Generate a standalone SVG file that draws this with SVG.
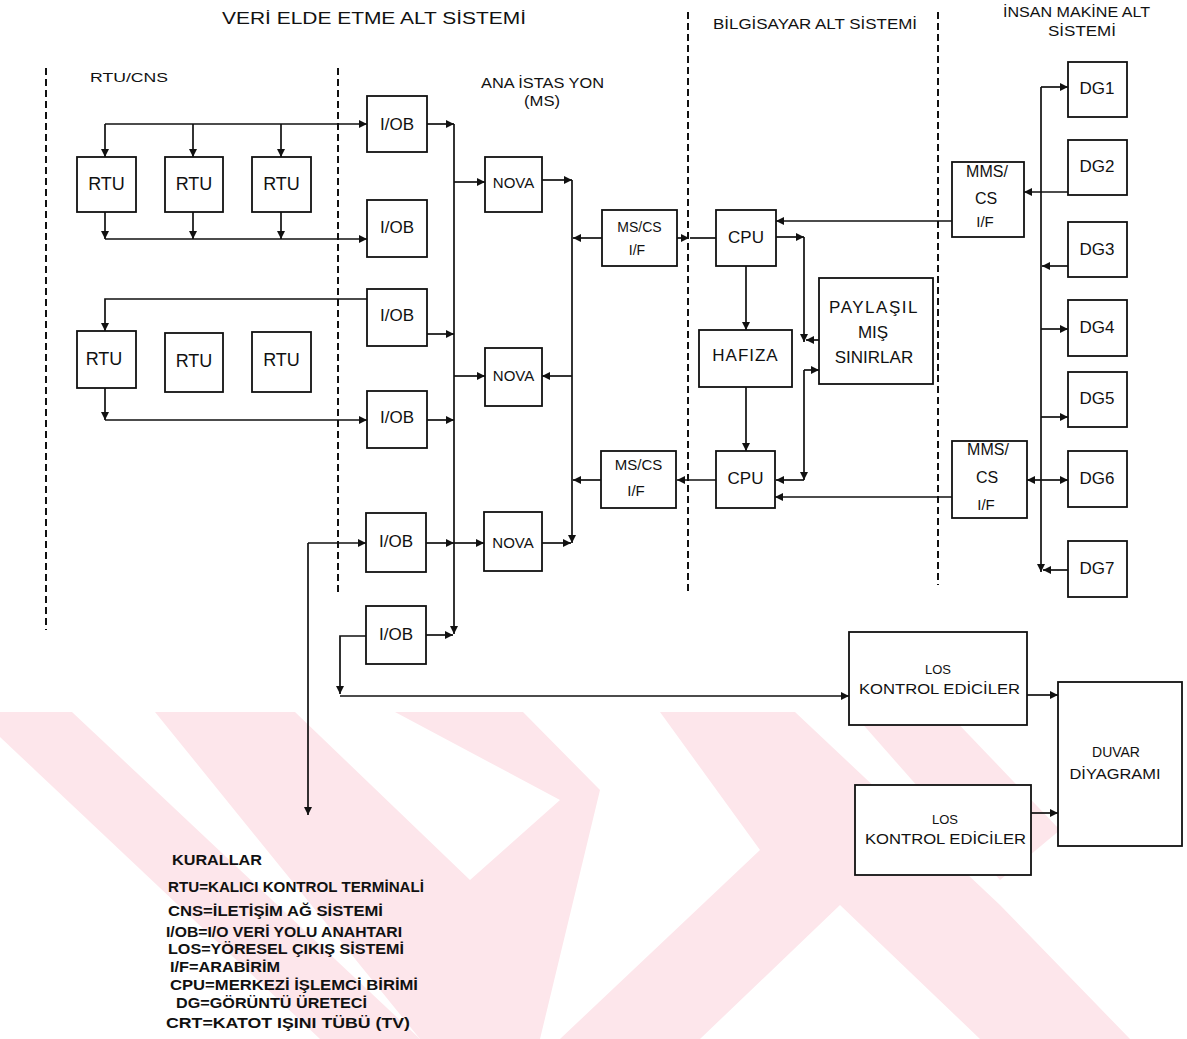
<svg xmlns="http://www.w3.org/2000/svg" width="1187" height="1039" viewBox="0 0 1187 1039">
<defs>
<marker id="ah" markerUnits="userSpaceOnUse" markerWidth="9" markerHeight="8" refX="8" refY="4" orient="auto">
<path d="M0,0 L8,4 L0,8 z" fill="#111"/>
</marker>
<style>
.t{font-family:"Liberation Sans",Arial,sans-serif;fill:#111;}
.bx{fill:#fff;stroke:#111;stroke-width:1.8;}
.c{fill:none;stroke:#111;stroke-width:1.7;}
.a{fill:none;stroke:#111;stroke-width:1.7;marker-end:url(#ah);}
.d{fill:none;stroke:#111;stroke-width:2;stroke-dasharray:7 4;}
.wm{fill:#fde6eb;}
</style>
</defs>
<rect width="1187" height="1039" fill="#fff"/>

<g id="watermark">
<polygon class="wm" points="0,712 72,712 420,1039 320,1039 0,737"/>
<polygon class="wm" points="155,712 295,712 470,880 560,800 395,712 523,712 600,790 540,1039 420,1039"/>
<polygon class="wm" points="660,712 795,712 1000,905 1130,1039 980,1039 840,905 700,1039 560,1039 760,850"/>
<polygon class="wm" points="852,712 947,712 1060,830 1000,880"/>
</g>

<g id="dividers">
<line class="d" x1="46" y1="68" x2="46" y2="630"/>
<line class="d" x1="338" y1="68" x2="338" y2="595"/>
<line class="d" x1="688" y1="12" x2="688" y2="595"/>
<line class="d" x1="938" y1="12" x2="938" y2="585"/>
</g>

<g id="headers">
<text class="t" x="222" y="24" font-size="16" textLength="304" lengthAdjust="spacingAndGlyphs">VERİ ELDE ETME ALT SİSTEMİ</text>
<text class="t" x="90" y="82" font-size="13" textLength="78" lengthAdjust="spacingAndGlyphs">RTU/CNS</text>
<text class="t" x="481" y="88" font-size="14" textLength="123" lengthAdjust="spacingAndGlyphs">ANA İSTAS YON</text>
<text class="t" x="524" y="106" font-size="14" textLength="36" lengthAdjust="spacingAndGlyphs">(MS)</text>
<text class="t" x="713" y="29" font-size="14" textLength="204" lengthAdjust="spacingAndGlyphs">BİLGİSAYAR ALT SİSTEMİ</text>
<text class="t" x="1003" y="17" font-size="14" textLength="147" lengthAdjust="spacingAndGlyphs">İNSAN MAKİNE ALT</text>
<text class="t" x="1048" y="36" font-size="14" textLength="68" lengthAdjust="spacingAndGlyphs">SİSTEMİ</text>
</g>

<g id="connectors">
<line class="a" x1="105" y1="124" x2="367" y2="124"/>
<line class="a" x1="105" y1="124" x2="105" y2="157"/>
<line class="a" x1="193" y1="124" x2="193" y2="157"/>
<line class="a" x1="281" y1="124" x2="281" y2="157"/>
<line class="a" x1="105" y1="212" x2="105" y2="239"/>
<line class="a" x1="193" y1="212" x2="193" y2="239"/>
<line class="a" x1="281" y1="212" x2="281" y2="239"/>
<line class="a" x1="105" y1="239" x2="367" y2="239"/>
<path class="a" d="M367,299 L105,299 L105,331"/>
<line class="a" x1="105" y1="388" x2="105" y2="420"/>
<line class="a" x1="105" y1="420" x2="367" y2="420"/>
<line class="a" x1="427" y1="124" x2="454" y2="124"/>
<line class="a" x1="427" y1="334" x2="454" y2="334"/>
<line class="a" x1="427" y1="420" x2="454" y2="420"/>
<line class="a" x1="426" y1="543" x2="454" y2="543"/>
<line class="a" x1="426" y1="635" x2="453" y2="635"/>
<line class="a" x1="454" y1="124" x2="454" y2="634"/>
<line class="a" x1="454" y1="182" x2="485" y2="182"/>
<line class="a" x1="454" y1="376" x2="485" y2="376"/>
<line class="a" x1="454" y1="543" x2="484" y2="543"/>
<line class="a" x1="542" y1="180" x2="572" y2="180"/>
<line class="a" x1="572" y1="180" x2="572" y2="543"/>
<line class="a" x1="572" y1="376" x2="542" y2="376"/>
<line class="a" x1="542" y1="543" x2="571" y2="543"/>
<line class="a" x1="602" y1="238" x2="573" y2="238"/>
<line class="a" x1="601" y1="480" x2="573" y2="480"/>
<line class="a" x1="677" y1="238" x2="689" y2="238"/>
<line class="c" x1="690" y1="238" x2="716" y2="238"/>
<line class="a" x1="716" y1="480" x2="677" y2="480"/>
<line class="a" x1="952" y1="221" x2="776" y2="221"/>
<line class="a" x1="776" y1="237" x2="804" y2="237"/>
<line class="a" x1="804" y1="237" x2="804" y2="342"/>
<line class="a" x1="819" y1="340" x2="806" y2="340"/>
<line class="a" x1="804" y1="370" x2="819" y2="370"/>
<line class="a" x1="804" y1="370" x2="804" y2="480"/>
<line class="a" x1="804" y1="480" x2="776" y2="480"/>
<line class="a" x1="746" y1="266" x2="746" y2="330"/>
<line class="a" x1="746" y1="387" x2="746" y2="451"/>
<line class="a" x1="952" y1="497" x2="775" y2="497"/>
<line class="a" x1="1041" y1="87" x2="1041" y2="572"/>
<line class="a" x1="1041" y1="87" x2="1068" y2="87"/>
<line class="a" x1="1068" y1="192" x2="1024" y2="192"/>
<line class="a" x1="1068" y1="266" x2="1042" y2="266"/>
<line class="a" x1="1041" y1="329" x2="1068" y2="329"/>
<line class="a" x1="1041" y1="417" x2="1068" y2="417"/>
<line class="a" x1="1041" y1="480" x2="1068" y2="480"/>
<line class="a" x1="1041" y1="480" x2="1027" y2="480"/>
<line class="a" x1="1068" y1="570" x2="1043" y2="570"/>
<line class="a" x1="308" y1="543" x2="366" y2="543"/>
<line class="a" x1="308" y1="543" x2="308" y2="815"/>
<path class="a" d="M366,636 L340,636 L340,694"/>
<line class="a" x1="340" y1="696" x2="849" y2="696"/>
<line class="a" x1="1027" y1="695" x2="1058" y2="695"/>
<line class="a" x1="1031" y1="813" x2="1058" y2="813"/>
</g>

<g id="rtu1"><rect class="bx" x="77" y="157" width="59" height="55"/><text class="t" x="106.5" y="190" font-size="18" text-anchor="middle">RTU</text></g>
<g id="rtu2"><rect class="bx" x="165" y="157" width="58" height="55"/><text class="t" x="194" y="190" font-size="18" text-anchor="middle">RTU</text></g>
<g id="rtu3"><rect class="bx" x="252" y="157" width="59" height="55"/><text class="t" x="281.5" y="190" font-size="18" text-anchor="middle">RTU</text></g>
<g id="rtu4"><rect class="bx" x="77" y="331" width="59" height="57"/><text class="t" x="104" y="365" font-size="18" text-anchor="middle">RTU</text></g>
<g id="rtu5"><rect class="bx" x="165" y="333" width="58" height="59"/><text class="t" x="194" y="367" font-size="18" text-anchor="middle">RTU</text></g>
<g id="rtu6"><rect class="bx" x="252" y="332" width="59" height="60"/><text class="t" x="281.5" y="366" font-size="18" text-anchor="middle">RTU</text></g>

<g id="iob1"><rect class="bx" x="367" y="96" width="60" height="56"/><text class="t" x="397" y="130" font-size="17" text-anchor="middle">I/OB</text></g>
<g id="iob2"><rect class="bx" x="367" y="200" width="60" height="57"/><text class="t" x="397" y="233" font-size="17" text-anchor="middle">I/OB</text></g>
<g id="iob3"><rect class="bx" x="367" y="289" width="60" height="57"/><text class="t" x="397" y="321" font-size="17" text-anchor="middle">I/OB</text></g>
<g id="iob4"><rect class="bx" x="367" y="391" width="60" height="57"/><text class="t" x="397" y="423" font-size="17" text-anchor="middle">I/OB</text></g>
<g id="iob5"><rect class="bx" x="366" y="513" width="60" height="59"/><text class="t" x="396" y="547" font-size="17" text-anchor="middle">I/OB</text></g>
<g id="iob6"><rect class="bx" x="366" y="606" width="60" height="58"/><text class="t" x="396" y="640" font-size="17" text-anchor="middle">I/OB</text></g>

<g id="nova1"><rect class="bx" x="485" y="157" width="57" height="55"/><text class="t" x="513.5" y="188" font-size="15" text-anchor="middle">NOVA</text></g>
<g id="nova2"><rect class="bx" x="485" y="348" width="57" height="58"/><text class="t" x="513.5" y="381" font-size="15" text-anchor="middle">NOVA</text></g>
<g id="nova3"><rect class="bx" x="484" y="512" width="58" height="59"/><text class="t" x="513" y="548" font-size="15" text-anchor="middle">NOVA</text></g>

<g id="mscs1"><rect class="bx" x="602" y="210" width="75" height="56"/><text class="t" x="639.5" y="232" font-size="14" text-anchor="middle">MS/CS</text><text class="t" x="637" y="255" font-size="14" text-anchor="middle">I/F</text></g>
<g id="mscs2"><rect class="bx" x="601" y="451" width="75" height="57"/><text class="t" x="638.5" y="470" font-size="15" text-anchor="middle">MS/CS</text><text class="t" x="636" y="496" font-size="15" text-anchor="middle">I/F</text></g>

<g id="cpu1"><rect class="bx" x="716" y="210" width="60" height="56"/><text class="t" x="746" y="243" font-size="17" text-anchor="middle">CPU</text></g>
<g id="hafiza"><rect class="bx" x="699" y="330" width="93" height="57"/><text class="t" x="745.5" y="361" font-size="17" text-anchor="middle" letter-spacing="1">HAFIZA</text></g>
<g id="cpu2"><rect class="bx" x="716" y="451" width="59" height="57"/><text class="t" x="745.5" y="484" font-size="17" text-anchor="middle">CPU</text></g>
<g id="paylasil"><rect class="bx" x="819" y="278" width="114" height="106"/>
<text class="t" x="874" y="313" font-size="17" text-anchor="middle" letter-spacing="1.5">PAYLAŞIL</text>
<text class="t" x="873" y="338" font-size="17" text-anchor="middle">MIŞ</text>
<text class="t" x="874" y="363" font-size="17" text-anchor="middle">SINIRLAR</text></g>

<g id="mms1"><rect class="bx" x="952" y="162" width="72" height="75"/>
<text class="t" x="987" y="177" font-size="16" text-anchor="middle">MMS/</text>
<text class="t" x="986" y="204" font-size="16" text-anchor="middle">CS</text>
<text class="t" x="985" y="227" font-size="15" text-anchor="middle">I/F</text></g>
<g id="mms2"><rect class="bx" x="952" y="441" width="75" height="77"/>
<text class="t" x="988" y="455" font-size="16" text-anchor="middle">MMS/</text>
<text class="t" x="987" y="483" font-size="16" text-anchor="middle">CS</text>
<text class="t" x="986" y="510" font-size="15" text-anchor="middle">I/F</text></g>

<g id="dg1"><rect class="bx" x="1068" y="62" width="59" height="55"/><text class="t" x="1097" y="94" font-size="17" text-anchor="middle">DG1</text></g>
<g id="dg2"><rect class="bx" x="1068" y="140" width="59" height="55"/><text class="t" x="1097" y="172" font-size="17" text-anchor="middle">DG2</text></g>
<g id="dg3"><rect class="bx" x="1068" y="222" width="59" height="55"/><text class="t" x="1097" y="255" font-size="17" text-anchor="middle">DG3</text></g>
<g id="dg4"><rect class="bx" x="1068" y="300" width="59" height="56"/><text class="t" x="1097" y="333" font-size="17" text-anchor="middle">DG4</text></g>
<g id="dg5"><rect class="bx" x="1068" y="372" width="59" height="55"/><text class="t" x="1097" y="404" font-size="17" text-anchor="middle">DG5</text></g>
<g id="dg6"><rect class="bx" x="1068" y="451" width="59" height="56"/><text class="t" x="1097" y="484" font-size="17" text-anchor="middle">DG6</text></g>
<g id="dg7"><rect class="bx" x="1068" y="541" width="59" height="56"/><text class="t" x="1097" y="574" font-size="17" text-anchor="middle">DG7</text></g>

<g id="los1"><rect class="bx" x="849" y="632" width="178" height="93"/>
<text class="t" x="938" y="674" font-size="13" text-anchor="middle">LOS</text>
<text class="t" x="859" y="694" font-size="14" textLength="161" lengthAdjust="spacingAndGlyphs">KONTROL EDİCİLER</text></g>
<g id="los2"><rect class="bx" x="855" y="785" width="176" height="90"/>
<text class="t" x="945" y="824" font-size="13" text-anchor="middle">LOS</text>
<text class="t" x="865" y="844" font-size="14" textLength="161" lengthAdjust="spacingAndGlyphs">KONTROL EDİCİLER</text></g>
<g id="duvar"><rect class="bx" x="1058" y="682" width="124" height="164"/>
<text class="t" x="1116" y="757" font-size="14" text-anchor="middle">DUVAR</text>
<text class="t" x="1115" y="779" font-size="14" text-anchor="middle" textLength="91" lengthAdjust="spacingAndGlyphs">DİYAGRAMI</text></g>

<g id="legend" font-size="14" font-weight="bold">
<text class="t" x="172" y="865" textLength="90" lengthAdjust="spacingAndGlyphs">KURALLAR</text>
<text class="t" x="168" y="892" textLength="256" lengthAdjust="spacingAndGlyphs">RTU=KALICI KONTROL TERMİNALİ</text>
<text class="t" x="168" y="916" textLength="215" lengthAdjust="spacingAndGlyphs">CNS=İLETİŞİM AĞ SİSTEMİ</text>
<text class="t" x="166" y="937" textLength="236" lengthAdjust="spacingAndGlyphs">I/OB=I/O VERİ YOLU ANAHTARI</text>
<text class="t" x="168" y="954" textLength="236" lengthAdjust="spacingAndGlyphs">LOS=YÖRESEL ÇIKIŞ SİSTEMİ</text>
<text class="t" x="170" y="972" textLength="110" lengthAdjust="spacingAndGlyphs">I/F=ARABİRİM</text>
<text class="t" x="170" y="990" textLength="248" lengthAdjust="spacingAndGlyphs">CPU=MERKEZİ İŞLEMCİ BİRİMİ</text>
<text class="t" x="176" y="1008" textLength="191" lengthAdjust="spacingAndGlyphs">DG=GÖRÜNTÜ ÜRETECİ</text>
<text class="t" x="166" y="1028" textLength="244" lengthAdjust="spacingAndGlyphs">CRT=KATOT IŞINI TÜBÜ (TV)</text>
</g>
</svg>
